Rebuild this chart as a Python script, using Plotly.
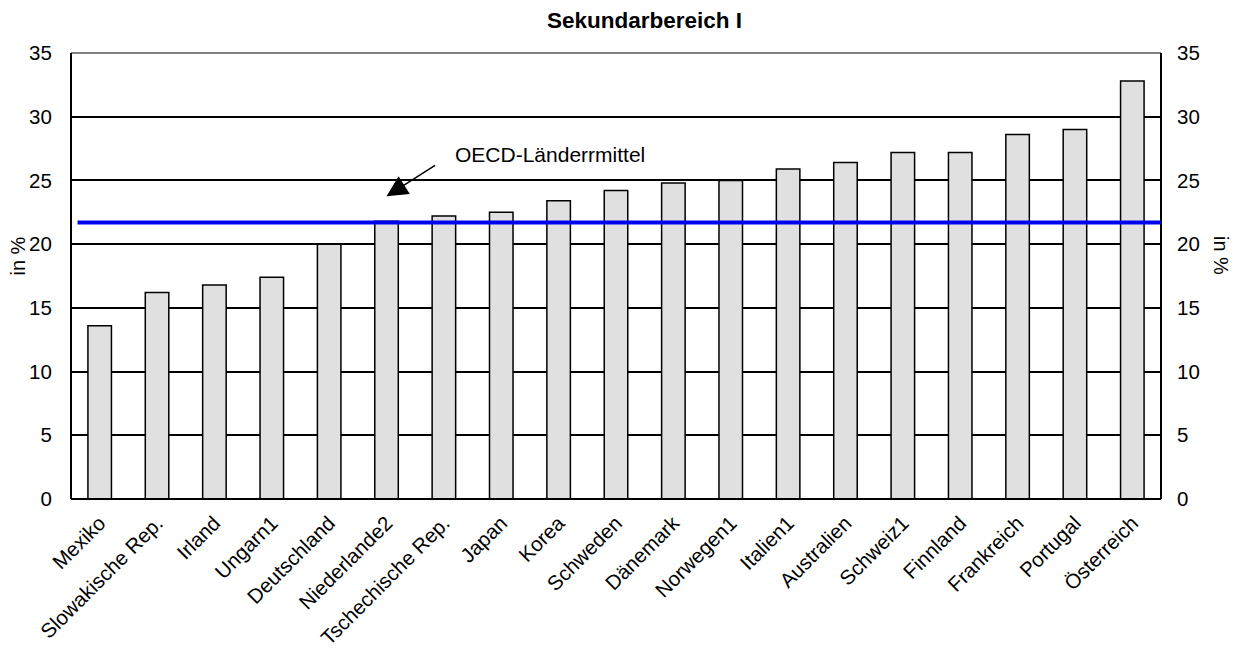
import plotly.graph_objects as go

countries = ["Mexiko", "Slowakische Rep.", "Irland", "Ungarn1", "Deutschland", "Niederlande2",
             "Tschechische Rep.", "Japan", "Korea", "Schweden", "Dänemark", "Norwegen1",
             "Italien1", "Australien", "Schweiz1", "Finnland", "Frankreich", "Portugal", "Österreich"]
values = [13.6, 16.2, 16.8, 17.4, 20.0, 21.8, 22.2, 22.5, 23.4, 24.2, 24.8, 25.0,
          25.9, 26.4, 27.2, 27.2, 28.6, 29.0, 32.8]
oecd_mean = 21.7
y_ticks = [0, 5, 10, 15, 20, 25, 30, 35]

FONT = "Liberation Sans, Arial, sans-serif"

# figure size compensates for the 8px default body margin of the html page
W, H = 1233, 647
L, T = 63, 45
R, B = W - 1153, H - 491
pw, ph = W - L - R, H - T - B


def px_to_paper(x, y):
    return (x - L) / pw, 1 - (y - T) / ph


fig = go.Figure()
fig.add_trace(go.Bar(
    x=countries, y=values, width=0.41,
    marker=dict(color="#e0e0e0", line=dict(color="black", width=1.5)),
    showlegend=False,
))
fig.add_trace(go.Scatter(x=countries, y=values, yaxis="y2", mode="markers",
                         marker=dict(opacity=0), showlegend=False, hoverinfo="skip"))

fig.update_layout(
    width=W, height=H,
    margin=dict(l=L, r=R, t=T, b=B),
    plot_bgcolor="white", paper_bgcolor="white",
    font=dict(family=FONT, color="black", size=20),
    title=dict(text="<b>Sekundarbereich I</b>", x=636.5 / W, xanchor="center",
               y=1 - 12 / H, yanchor="middle", font=dict(size=22.5, family=FONT)),
    xaxis=dict(type="category", tickangle=-45, tickfont=dict(size=20.5),
               ticks="outside", ticklen=3, tickcolor="rgba(0,0,0,0)",
               showgrid=False, showline=False, zeroline=False,
               range=[-0.5, len(countries) - 0.5], automargin=False),
    yaxis=dict(range=[0, 35], tickvals=y_ticks, showgrid=True, gridcolor="black",
               gridwidth=1.5, zeroline=False, showline=False,
               ticks="outside", ticklen=14, tickcolor="rgba(0,0,0,0)",
               tickfont=dict(size=20.5), automargin=False),
    yaxis2=dict(range=[0, 35], tickvals=y_ticks, overlaying="y", side="right",
                showgrid=False, zeroline=False, showline=False,
                ticks="outside", ticklen=11, tickcolor="rgba(0,0,0,0)",
                tickfont=dict(size=20.5), automargin=False),
)

# plot border
fig.add_shape(type="line", xref="paper", yref="paper", x0=0, x1=1, y0=1, y1=1,
              line=dict(color="#808080", width=2), layer="above")
fig.add_shape(type="line", xref="paper", yref="paper", x0=0, x1=0, y0=0, y1=1,
              line=dict(color="black", width=2), layer="above")
fig.add_shape(type="line", xref="paper", yref="paper", x0=1, x1=1, y0=0, y1=1,
              line=dict(color="black", width=2), layer="above")
fig.add_shape(type="line", xref="paper", yref="paper", x0=0, x1=1, y0=0, y1=0,
              line=dict(color="black", width=2), layer="above")

# OECD mean line
fig.add_shape(type="line", xref="paper", yref="y", x0=0.006, x1=1, y0=oecd_mean, y1=oecd_mean,
              line=dict(color="#0000f0", width=4), layer="above")

# arrow and label
fig.add_annotation(x=5, y=23.75, xref="x", yref="y", ax=50, ay=-32, text="",
                   showarrow=True, arrowhead=2, arrowsize=2.8, arrowwidth=1.5, arrowcolor="black")
fig.add_annotation(x=7.85, y=27.0, xref="x", yref="y", text="OECD-Länderrmittel",
                   showarrow=False, font=dict(size=21))

# axis titles
lx, ly = px_to_paper(9.5, 248)
fig.add_annotation(x=lx, y=ly, xref="paper", yref="paper", text="in %", showarrow=False,
                   textangle=-90, font=dict(size=20), xanchor="center", yanchor="middle")
rx, ry = px_to_paper(1213, 248)
fig.add_annotation(x=rx, y=ry, xref="paper", yref="paper", text="in %", showarrow=False,
                   textangle=90, font=dict(size=20), xanchor="center", yanchor="middle")

fig.write_html("out.html")
